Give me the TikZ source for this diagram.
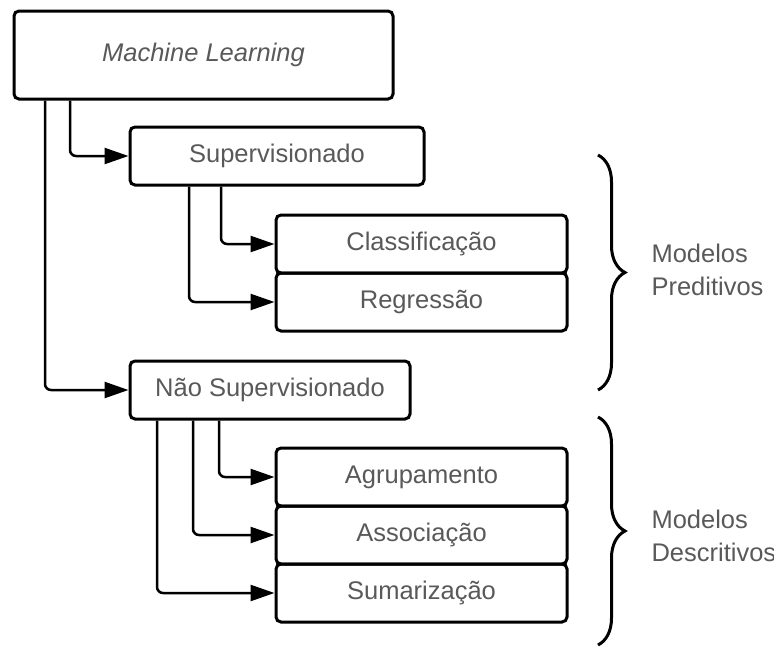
\documentclass[tikz,border=0pt]{standalone}
\usepackage{fontspec}
\setmainfont{Liberation Sans}
\usepackage{tikz}
\usetikzlibrary{arrows.meta,decorations.pathreplacing}

\begin{document}
\begin{tikzpicture}[x=1pt,y=-1pt]
			\tikzstyle{Box}		= [rectangle, draw, line width=3pt, rounded corners=5pt, text=black!65, inner sep=0pt, font=\fontsize{25.5}{30}\selectfont]
			\tikzstyle{Leaf}	= [Box, minimum width=291pt, minimum height=58pt]
			\tikzstyle{Arrow}	= [line width=2.5pt, rounded corners=6pt, -{Triangle[length=24pt,width=16pt]}]
			\tikzstyle{Brace}	= [line width=3pt, decorate, decoration={brace, amplitude=27pt, aspect=0.5}]
			\tikzstyle{Group}	= [anchor=west, align=left, text=black!65, font=\fontsize{25.5}{33}\selectfont]

			\useasboundingbox (0,0) rectangle (774,648);

			\node (ML) at (203.5,55) [Box, minimum width=379pt, minimum height=88pt] {\itshape Machine Learning};
			\node (Sup) at (277,156) [Box, minimum width=294pt, minimum height=58pt] {Supervisionado};
			\node (Cla) at (421.5,244) [Leaf] {Classificação};
			\node (Reg) at (421.5,302) [Leaf] {Regressão};
			\node (NSup) at (270,390) [Box, minimum width=280pt, minimum height=58pt] {Não Supervisionado};
			\node (Agr) at (421.5,477) [Leaf] {Agrupamento};
			\node (Ass) at (421.5,535) [Leaf] {Associação};
			\node (Sum) at (421.5,593) [Leaf] {Sumarização};

			\draw [Arrow] (ML.south -| 70,0) |- (Sup.west);
			\draw [Arrow] (ML.south -| 45,0) |- (NSup.west);
			\draw [Arrow] (Sup.south -| 221,0) |- (Cla.west);
			\draw [Arrow] (Sup.south -| 189,0) |- (Reg.west);
			\draw [Arrow] (NSup.south -| 219,0) |- (Agr.west);
			\draw [Arrow] (NSup.south -| 193,0) |- (Ass.west);
			\draw [Arrow] (NSup.south -| 157,0) |- (Sum.west);

			\coordinate (p1) at (598,155);
			\coordinate (p2) at (598,390);
			\coordinate (d1) at (598,417);
			\coordinate (d2) at (598,645);
			\draw [Brace] (p1) -- (p2);
			\draw [Brace] (d1) -- (d2);

			\node (Pred) at (648,270) [Group] {Modelos\\Preditivos};
			\node (Desc) at (648,536) [Group] {Modelos\\Descritivos};

		\end{tikzpicture}
\end{document}
